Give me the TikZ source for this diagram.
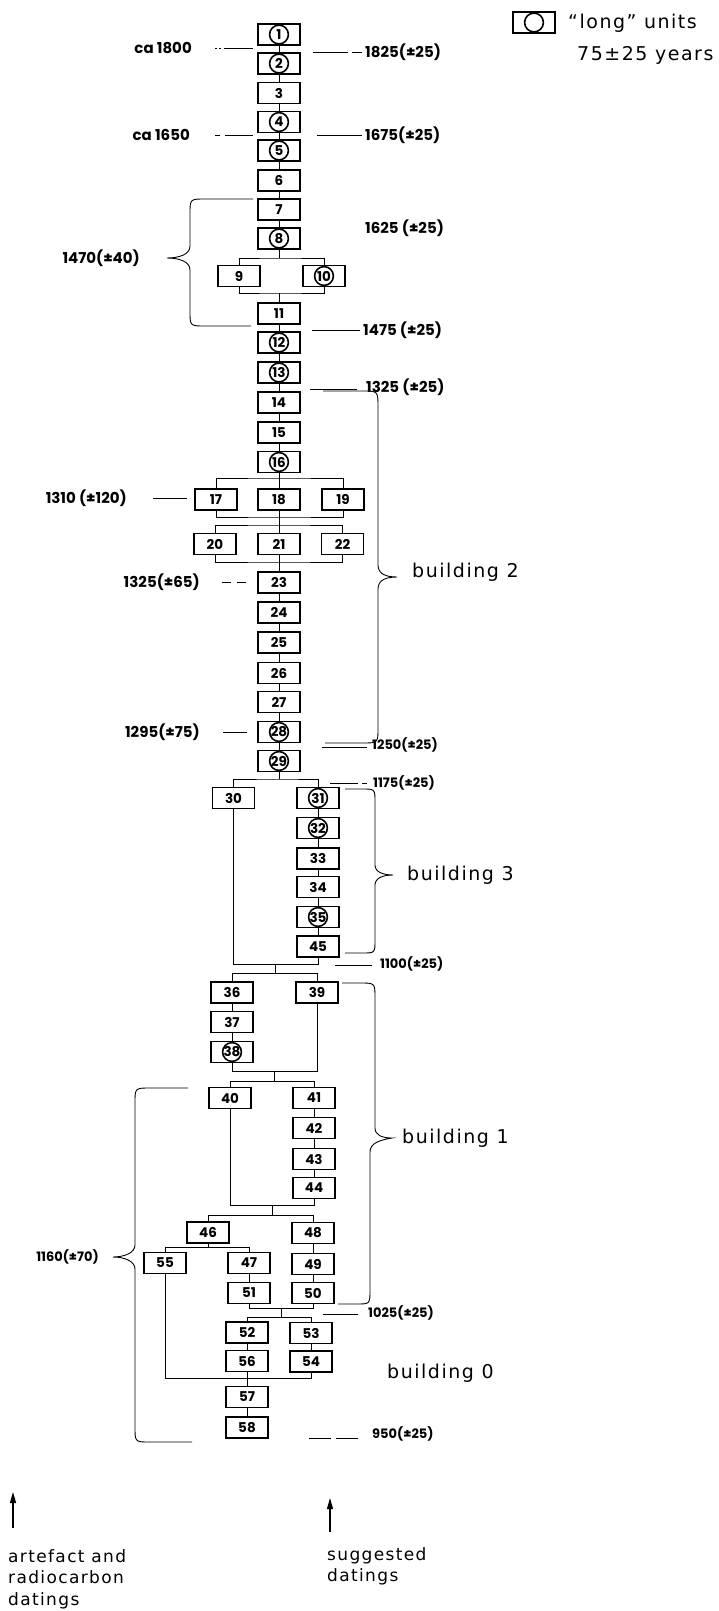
\documentclass[tikz,border=0pt]{standalone}
\usepackage{fontspec}
\setmainfont{DejaVu Sans}
\newfontfamily\numfont{Poppins}
\newfontfamily\letterfont{DejaVu Sans}[LetterSpace=8]
\usetikzlibrary{positioning,arrows.meta,calc}
\tikzset{
  unitbox/.style ={draw, line width=1.6pt, minimum width=42pt, minimum height=21pt, inner sep=0pt,
                   font=\numfont\bfseries\fontsize{13.5}{13.5}\selectfont},
  longbox/.style ={unitbox, path picture={\draw[line width=1.6pt] (path picture bounding box.center) circle (9.4pt);}},
  link/.style    ={line width=0.8pt},
  dateln/.style  ={line width=0.8pt},
  curly/.style   ={line width=0.9pt},
  datelbl/.style ={font=\numfont\bfseries\fontsize{15}{15}\selectfont, inner sep=0pt},
  datesm/.style  ={font=\numfont\bfseries\fontsize{13}{13}\selectfont, inner sep=0pt},
  bldlbl/.style  ={font=\letterfont\fontsize{19}{19}\selectfont, inner sep=0pt, anchor=west},
  notelbl/.style ={font=\letterfont\fontsize{17}{21.5}\selectfont, inner sep=0pt, align=left},
  keylbl/.style  ={font=\letterfont\fontsize{19}{19}\selectfont, inner sep=0pt, anchor=west},
  uparr/.style   ={-{Triangle[length=11pt,width=6pt]}, line width=1.2pt},
}
\begin{document}
\begin{tikzpicture}[x=1pt, y=-1pt]
\path[use as bounding box, fill=white] (0,0) rectangle (719,1611);

% ---- legend
\node[longbox] (key) at (534,22.5) {};
\node[keylbl] (keyA) at (568,23) {“long” units};
\node[keylbl] (keyB) at (577,55) {75±25 years};

% ---- main column (building 2 and above)
\foreach \i/\s/\y in {1/longbox/34.5, 2/longbox/63.5, 3/unitbox/93, 4/longbox/122, 5/longbox/150.5,
    6/unitbox/180.5, 7/unitbox/209.5, 8/longbox/238.5, 11/unitbox/313.5, 12/longbox/342.5,
    13/longbox/372.5, 14/unitbox/402.5, 15/unitbox/432.5, 16/longbox/462, 23/unitbox/582.5,
    24/unitbox/612.5, 25/unitbox/642.5, 26/unitbox/673, 27/unitbox/702, 28/longbox/732, 29/longbox/761}
  \node[\s] (b\i) at (279,\y) {\i};
\foreach \a/\b in {1/2, 2/3, 3/4, 4/5, 5/6, 6/7, 7/8, 11/12, 12/13, 13/14, 14/15, 15/16,
    23/24, 24/25, 25/26, 26/27, 27/28, 28/29}
  \draw[link] (b\a) -- (b\b);

% ---- 9 / 10
\node[unitbox] (b9) at (239,276) {9};
\node[longbox] (b10) at (324,276) {10};
\coordinate (f8) at (279,258);
\coordinate (j10) at (279,293);
\draw[link] (b8) -- (f8);
\draw[link] (b9.north) |- (f8) -| (b10.north);
\draw[link] (b9.south) |- (j10) -| (b10.south);
\draw[link] (j10) -- (b11);

% ---- 17 - 22
\foreach \i/\x in {17/216, 18/279, 19/343} \node[unitbox] (b\i) at (\x,499.5) {\i};
\foreach \i/\x in {20/215, 21/279, 22/342.5} \node[unitbox] (b\i) at (\x,544) {\i};
\coordinate (f16) at (279,478);
\coordinate (j19) at (279,517);
\coordinate (f21) at (279,525);
\coordinate (j22) at (279,562);
\draw[link] (b16) -- (b18) -- (b21) -- (b23);
\draw[link] (b17.north) |- (f16) -| (b19.north);
\draw[link] (b17.south) |- (j19) -| (b19.south);
\draw[link] (b20.north) |- (f21) -| (b22.north);
\draw[link] (b20.south) |- (j22) -| (b22.south);

% ---- building 3
\node[unitbox] (b30) at (233.5,798) {30};
\foreach \i/\s/\y in {31/longbox/798, 32/longbox/828, 33/unitbox/858.5, 34/unitbox/887,
    35/longbox/917, 45/unitbox/946.5}
  \node[\s] (b\i) at (318,\y) {\i};
\foreach \a/\b in {31/32, 32/33, 33/34, 34/35, 35/45} \draw[link] (b\a) -- (b\b);
\coordinate (f29) at (279,779);
\coordinate (j45) at (275,964);
\draw[link] (b29) -- (f29);
\draw[link] (b30.north) |- (f29) -| (b31.north);
\draw[link] (b30.south) |- (j45) -| (b45.south);

% ---- 36 - 39
\foreach \i/\s/\y in {36/unitbox/992.5, 37/unitbox/1022, 38/longbox/1052}
  \node[\s] (b\i) at (232,\y) {\i};
\node[unitbox] (b39) at (317,992.5) {39};
\draw[link] (b36) -- (b37) -- (b38);
\coordinate (f36) at (275,973);
\coordinate (j38) at (274,1071);
\draw[link] (j45) -- (f36);
\draw[link] (b36.north) |- (f36) -| (b39.north);
\draw[link] (b38.south) |- (j38) -| (b39.south);

% ---- building 1
\node[unitbox] (b40) at (230,1098) {40};
\foreach \i/\y in {41/1098, 42/1128, 43/1159, 44/1188} \node[unitbox] (b\i) at (314,\y) {\i};
\draw[link] (b41) -- (b42) -- (b43) -- (b44);
\coordinate (f40) at (274,1081);
\coordinate (j44) at (272,1205);
\draw[link] (j38) -- (f40);
\draw[link] (b40.north) |- (f40) -| (b41.north);
\draw[link] (b40.south) |- (j44) -| (b44.south);

\node[unitbox] (b46) at (208,1232.5) {46};
\foreach \i/\y in {48/1233, 49/1264, 50/1293} \node[unitbox] (b\i) at (313,\y) {\i};
\node[unitbox] (b55) at (165,1263) {55};
\node[unitbox] (b47) at (249,1263) {47};
\node[unitbox] (b51) at (249,1293) {51};
\draw[link] (b48) -- (b49) -- (b50);
\draw[link] (b47) -- (b51);
\coordinate (f46) at (272,1215);
\coordinate (f55) at (208,1247);
\draw[link] (j44) -- (f46);
\draw[link] (b46.north) |- (f46) -| (b48.north);
\draw[link] (b46) -- (f55);
\draw[link] (b55.north) |- (f55) -| (b47.north);

% ---- building 0
\foreach \i/\y in {52/1332.5, 56/1361, 57/1397, 58/1427.5} \node[unitbox] (b\i) at (247,\y) {\i};
\node[unitbox] (b53) at (311,1333) {53};
\node[unitbox] (b54) at (311,1361.5) {54};
\draw[link] (b52) -- (b56) -- (b57) -- (b58);
\draw[link] (b53) -- (b54);
\coordinate (j51) at (281,1308);
\coordinate (f52) at (281,1317);
\coordinate (j56) at (247,1378);
\draw[link] (b51.south) |- (j51) -| (b50.south);
\draw[link] (j51) -- (f52);
\draw[link] (b52.north) |- (f52) -| (b53.north);
\draw[link] (b55.south) |- (j56) -| (b54.south);

% ---- artefact and radiocarbon datings (left)
\node[datelbl, anchor=east] (l1800) at (192,48) {ca 1800};
\node[datelbl, anchor=east] (l1650) at (190,135) {ca 1650};
\node[datelbl, anchor=east] (l1470) at (140,258) {1470(±40)};
\node[datelbl, anchor=east] (l1310) at (127,498) {1310 (±120)};
\node[datelbl, anchor=east] (l1325) at (200,582) {1325(±65)};
\node[datelbl, anchor=east] (l1295) at (200,732) {1295(±75)};
\node[datesm, anchor=east] (l1160) at (99,1257) {1160(±70)};
\draw[dateln, dash pattern=on 2pt off 2pt on 2pt off 3pt on 40pt] ([xshift=23pt]l1800.east) -- +(38,0);
\draw[dateln, dash pattern=on 5pt off 5pt on 40pt] ([xshift=25pt]l1650.east) -- +(38,0);
\draw[dateln] ([xshift=26pt]l1310.east) -- +(34,0);
\draw[dateln, dash pattern=on 9pt off 6pt] ([xshift=22pt]l1325.east) -- +(25,0);
\draw[dateln] ([xshift=23pt]l1295.east) -- +(24,0);

% ---- suggested datings (right)
\node[datelbl, anchor=west] (r1825) at (365,52) {1825(±25)};
\node[datelbl, anchor=west] (r1675) at (365,135) {1675(±25)};
\node[datelbl, anchor=west] (r1625) at (365,228) {1625 (±25)};
\node[datelbl, anchor=west] (r1475) at (363,330) {1475 (±25)};
\node[datelbl, anchor=west] (r1325) at (366,387) {1325 (±25)};
\node[datesm, anchor=west] (r1250) at (372,745) {1250(±25)};
\node[datesm, anchor=west] (r1175) at (373,783) {1175(±25)};
\node[datesm, anchor=west] (r1100) at (380,964) {1100(±25)};
\node[datesm, anchor=west] (r1025) at (368,1313) {1025(±25)};
\node[datesm, anchor=west] (r950) at (372,1434) {950(±25)};
\draw[dateln, dash pattern=on 10pt off 4pt on 40pt] ([xshift=-3pt]r1825.west) -- +(-49,0);
\draw[dateln] ([xshift=-3pt]r1675.west) -- +(-45,0);
\draw[dateln] ([xshift=-3pt]r1475.west) -- +(-48,0);
\draw[dateln] ([xshift=-9pt,yshift=-2pt]r1325.west) -- +(-47,0);
\draw[dateln] ([xshift=-5pt,yshift=-2pt]r1250.west) -- +(-45,0);
\draw[dateln, dash pattern=on 5pt off 4pt on 40pt] ([xshift=-6pt]r1175.west) -- +(-37,0);
\draw[dateln] ([xshift=-8pt,yshift=-1pt]r1100.west) -- +(-37,0);
\draw[dateln] ([xshift=-10pt,yshift=-1pt]r1025.west) -- +(-35,0);
\draw[dateln, dash pattern=on 22pt off 5pt] ([xshift=-14pt,yshift=-4pt]r950.west) -- +(-51,0);

% ---- braces
\draw[curly] (253,199) -- (205,199) .. controls (190,199) .. (190,214) -- (190,246)
  .. controls (190,255) and (178,258) .. (167,258) .. controls (178,258) and (190,261) .. (190,270)
  -- (190,311) .. controls (190,326) .. (205,326) -- (251,326);
\draw[curly] (323,391) -- (362,391) .. controls (378,391) .. (378,407) -- (378,565)
  .. controls (378,574) and (386,577) .. (397,577) .. controls (386,577) and (378,580) .. (378,589)
  -- (378,728) .. controls (378,743) .. (362,743) -- (325,743);
\draw[curly] (345,789) -- (362,789) .. controls (375,789) .. (375,802) -- (375,865)
  .. controls (375,872) and (383,875) .. (393,875) .. controls (383,875) and (375,878) .. (375,885)
  -- (375,940) .. controls (375,953) .. (362,953) -- (345,953);
\draw[curly] (342,983) -- (360,983) .. controls (375,983) .. (375,998) -- (375,1128)
  .. controls (375,1135) and (382,1138) .. (392,1138) .. controls (380,1140) and (370,1143) .. (370,1152)
  -- (370,1290) .. controls (370,1304) .. (356,1304) -- (338,1304);
\draw[curly] (188,1088) -- (150,1088) .. controls (135,1088) .. (135,1103) -- (135,1245)
  .. controls (135,1253) and (124,1257) .. (113,1257) .. controls (124,1257) and (135,1261) .. (135,1269)
  -- (135,1427) .. controls (135,1442) .. (150,1442) -- (192,1442);
\node[bldlbl] (bld2) at (412,572) {building 2};
\node[bldlbl] (bld3) at (407,875) {building 3};
\node[bldlbl] (bld1) at (402,1138) {building 1};
\node[bldlbl] (bld0) at (387,1373) {building 0};

% ---- column captions
\node[notelbl, anchor=north west] (artef) at (8,1549) {artefact and\\radiocarbon\\datings};
\node[notelbl, anchor=north west] (sugg) at (327,1547) {suggested\\datings};
\coordinate (aL) at (13,1528);
\coordinate (aR) at (330,1532);
\draw[uparr] (aL) -- +(0,-36);
\draw[uparr] (aR) -- +(0,-34);
\end{tikzpicture}
\end{document}
